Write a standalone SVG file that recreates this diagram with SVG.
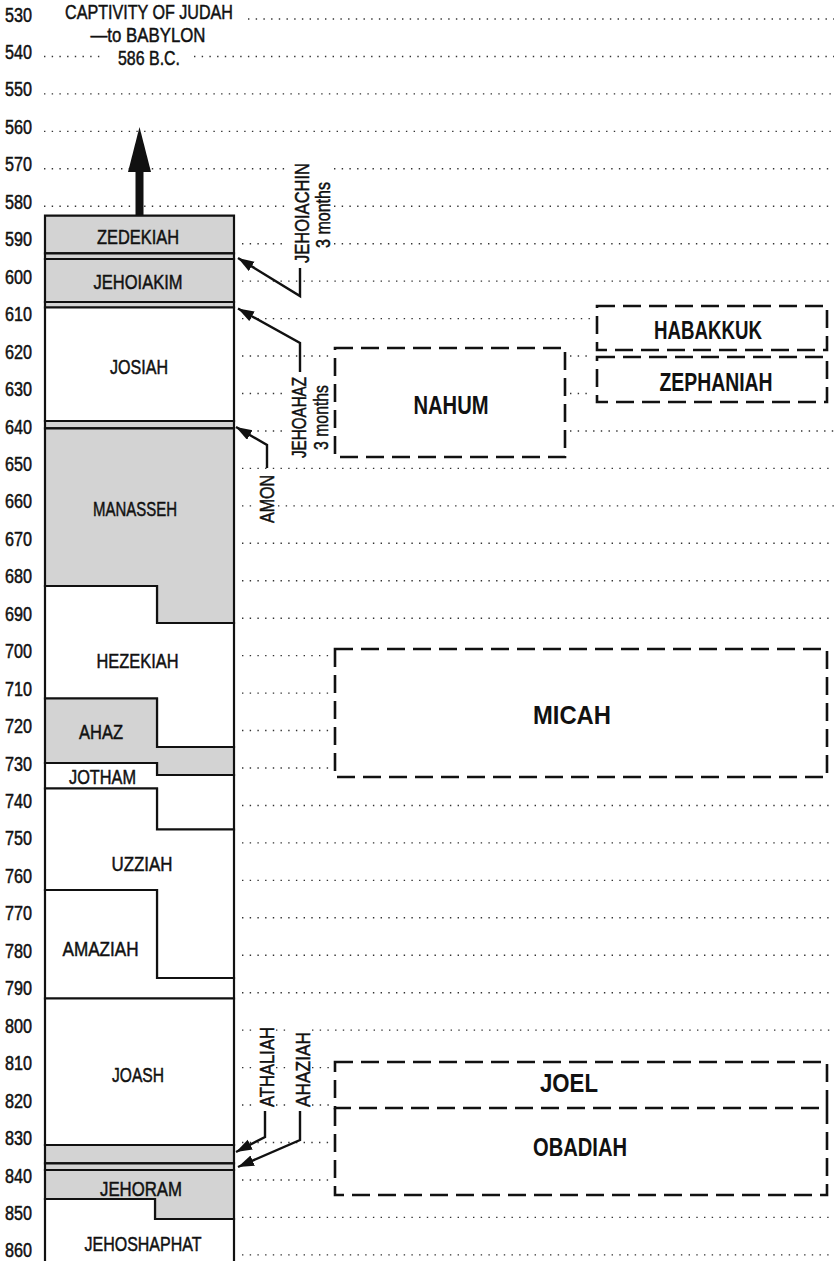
<svg xmlns="http://www.w3.org/2000/svg" width="834" height="1261" viewBox="0 0 834 1261">
<defs>
<style>
.t{font-family:'Liberation Sans',Arial,sans-serif;font-size:21px;fill:#111;stroke:#111;stroke-width:0.5}
.y{font-size:20px}
.m{text-anchor:middle}
.p{font-family:'Liberation Sans',Arial,sans-serif;font-size:26px;font-weight:bold;fill:#111;text-anchor:middle}
.dot{fill:none;stroke:#333;stroke-width:1.4;stroke-dasharray:1.4 6.3}
.r{stroke:#111;stroke-width:2.2;stroke-linejoin:miter}
.g{fill:#d3d3d3}
.w{fill:#fff}
.box{fill:none;stroke:#111;stroke-width:2.6;stroke-dasharray:18 8}
.lead{fill:none;stroke:#111;stroke-width:2.4}
</style>
<marker id="ah" markerUnits="userSpaceOnUse" markerWidth="18" markerHeight="12" refX="16" refY="5.5" orient="auto">
<path d="M0,0 L16,5.5 L0,11 z" fill="#111"/>
</marker>
</defs>
<rect width="834" height="1261" fill="#fff"/>

<g id="gridlines">
<path class="dot" d="M248 19H834 M44 56.45H102 M194 56.45H834 M44 93.9H834 M44 131.35H834 M44 168.8H286 M334 168.8H834 M44 206.25H286 M334 206.25H834 M242 243.7H286 M334 243.7H834 M242 281.15H834 M242 318.6H592 M242 356.05H330 M570 356.05H592 M242 393.5H286 M570 393.5H592 M242 430.95H286 M570 430.95H834 M242 468.4H834 M242 505.85H252 M278 505.85H834 M242 543.3H834 M242 580.75H834 M242 618.2H834 M242 655.65H330 M242 693.1H330 M242 730.55H330 M242 768H330 M242 805.45H834 M242 842.9H834 M242 880.35H834 M242 917.8H834 M242 955.25H834 M242 992.7H834 M242 1030.15H255 M276 1030.15H290 M312 1030.15H834 M242 1067.6H255 M276 1067.6H290 M312 1067.6H330 M242 1105.05H255 M276 1105.05H290 M312 1105.05H330 M242 1142.5H330 M242 1179.95H330 M242 1217.4H834 M242 1254.85H834"/>
</g>

<g id="years" class="t y">
<text x="5" y="21.5" textLength="27" lengthAdjust="spacingAndGlyphs">530</text>
<text x="5" y="59" textLength="27" lengthAdjust="spacingAndGlyphs">540</text>
<text x="5" y="96.4" textLength="27" lengthAdjust="spacingAndGlyphs">550</text>
<text x="5" y="133.9" textLength="27" lengthAdjust="spacingAndGlyphs">560</text>
<text x="5" y="171.3" textLength="27" lengthAdjust="spacingAndGlyphs">570</text>
<text x="5" y="208.8" textLength="27" lengthAdjust="spacingAndGlyphs">580</text>
<text x="5" y="246.2" textLength="27" lengthAdjust="spacingAndGlyphs">590</text>
<text x="5" y="283.7" textLength="27" lengthAdjust="spacingAndGlyphs">600</text>
<text x="5" y="321.1" textLength="27" lengthAdjust="spacingAndGlyphs">610</text>
<text x="5" y="358.6" textLength="27" lengthAdjust="spacingAndGlyphs">620</text>
<text x="5" y="396" textLength="27" lengthAdjust="spacingAndGlyphs">630</text>
<text x="5" y="433.5" textLength="27" lengthAdjust="spacingAndGlyphs">640</text>
<text x="5" y="470.9" textLength="27" lengthAdjust="spacingAndGlyphs">650</text>
<text x="5" y="508.4" textLength="27" lengthAdjust="spacingAndGlyphs">660</text>
<text x="5" y="545.8" textLength="27" lengthAdjust="spacingAndGlyphs">670</text>
<text x="5" y="583.3" textLength="27" lengthAdjust="spacingAndGlyphs">680</text>
<text x="5" y="620.7" textLength="27" lengthAdjust="spacingAndGlyphs">690</text>
<text x="5" y="658.2" textLength="27" lengthAdjust="spacingAndGlyphs">700</text>
<text x="5" y="695.6" textLength="27" lengthAdjust="spacingAndGlyphs">710</text>
<text x="5" y="733.1" textLength="27" lengthAdjust="spacingAndGlyphs">720</text>
<text x="5" y="770.5" textLength="27" lengthAdjust="spacingAndGlyphs">730</text>
<text x="5" y="808" textLength="27" lengthAdjust="spacingAndGlyphs">740</text>
<text x="5" y="845.4" textLength="27" lengthAdjust="spacingAndGlyphs">750</text>
<text x="5" y="882.9" textLength="27" lengthAdjust="spacingAndGlyphs">760</text>
<text x="5" y="920.3" textLength="27" lengthAdjust="spacingAndGlyphs">770</text>
<text x="5" y="957.8" textLength="27" lengthAdjust="spacingAndGlyphs">780</text>
<text x="5" y="995.2" textLength="27" lengthAdjust="spacingAndGlyphs">790</text>
<text x="5" y="1032.7" textLength="27" lengthAdjust="spacingAndGlyphs">800</text>
<text x="5" y="1070.1" textLength="27" lengthAdjust="spacingAndGlyphs">810</text>
<text x="5" y="1107.6" textLength="27" lengthAdjust="spacingAndGlyphs">820</text>
<text x="5" y="1145" textLength="27" lengthAdjust="spacingAndGlyphs">830</text>
<text x="5" y="1182.5" textLength="27" lengthAdjust="spacingAndGlyphs">840</text>
<text x="5" y="1219.9" textLength="27" lengthAdjust="spacingAndGlyphs">850</text>
<text x="5" y="1257.4" textLength="27" lengthAdjust="spacingAndGlyphs">860</text>
</g>

<g id="captivity">
<text class="t m" x="149" y="18.5" textLength="168" lengthAdjust="spacingAndGlyphs">CAPTIVITY OF JUDAH</text>
<text class="t m" x="148" y="42" textLength="115" lengthAdjust="spacingAndGlyphs">—to BABYLON</text>
<text class="t m" x="149" y="65" textLength="62" lengthAdjust="spacingAndGlyphs">586 B.C.</text>
<rect x="135.5" y="170" width="8" height="46" fill="#111"/>
<polygon points="139.5,127 151,172 128,172" fill="#111"/>
</g>

<g id="zedekiah"><polygon class="r g" points="45,215.7 234,215.7 234,253.3 45,253.3"/><text class="t m" x="138" y="243.5" textLength="82" lengthAdjust="spacingAndGlyphs">ZEDEKIAH</text></g>
<g id="jehoiachin"><polygon class="r g" points="45,253.3 234,253.3 234,259 45,259"/></g>
<g id="jehoiakim"><polygon class="r g" points="45,259 234,259 234,302 45,302"/><text class="t m" x="138" y="288.5" textLength="89" lengthAdjust="spacingAndGlyphs">JEHOIAKIM</text></g>
<g id="jehoahaz"><polygon class="r g" points="45,302 234,302 234,307.5 45,307.5"/></g>
<g id="josiah"><polygon class="r w" points="45,307.5 234,307.5 234,421 45,421"/><text class="t m" x="139" y="373.5" textLength="58" lengthAdjust="spacingAndGlyphs">JOSIAH</text></g>
<g id="amon"><polygon class="r g" points="45,421 234,421 234,428.3 45,428.3"/></g>
<g id="manasseh"><polygon class="r g" points="45,428.3 234,428.3 234,623 157,623 157,586 45,586"/><text class="t m" x="135" y="515.5" textLength="84" lengthAdjust="spacingAndGlyphs">MANASSEH</text></g>
<g id="hezekiah"><polygon class="r w" points="45,586 157,586 157,623 234,623 234,747 157,747 157,698.5 45,698.5"/><text class="t m" x="137.5" y="668" textLength="82" lengthAdjust="spacingAndGlyphs">HEZEKIAH</text></g>
<g id="ahaz"><polygon class="r g" points="45,698.5 157,698.5 157,747 234,747 234,775 157,775 157,763 45,763"/><text class="t m" x="101" y="738.5" textLength="44" lengthAdjust="spacingAndGlyphs">AHAZ</text></g>
<g id="jotham"><polygon class="r w" points="45,763 157,763 157,775 234,775 234,829.5 157,829.5 157,788.5 45,788.5"/><text class="t m" x="102.5" y="783.5" textLength="67" lengthAdjust="spacingAndGlyphs">JOTHAM</text></g>
<g id="uzziah"><polygon class="r w" points="45,788.5 157,788.5 157,829.5 234,829.5 234,978 157,978 157,890 45,890"/><text class="t m" x="142" y="870.5" textLength="61" lengthAdjust="spacingAndGlyphs">UZZIAH</text></g>
<g id="amaziah"><polygon class="r w" points="45,890 157,890 157,978 234,978 234,998.5 45,998.5"/><text class="t m" x="100.5" y="956" textLength="76" lengthAdjust="spacingAndGlyphs">AMAZIAH</text></g>
<g id="joash"><polygon class="r w" points="45,998.5 234,998.5 234,1145 45,1145"/><text class="t m" x="138" y="1082" textLength="52" lengthAdjust="spacingAndGlyphs">JOASH</text></g>
<g id="athaliah"><polygon class="r g" points="45,1145 234,1145 234,1163.3 45,1163.3"/></g>
<g id="ahaziah"><polygon class="r g" points="45,1163.3 234,1163.3 234,1170 45,1170"/></g>
<g id="jehoram"><polygon class="r g" points="45,1170 234,1170 234,1219 155,1219 155,1199 45,1199"/><text class="t m" x="141" y="1195.5" textLength="82" lengthAdjust="spacingAndGlyphs">JEHORAM</text></g>
<g id="jehoshaphat"><polygon class="r w" points="45,1199 155,1199 155,1219 234,1219 234,1266 45,1266"/><text class="t m" x="143" y="1251" textLength="117" lengthAdjust="spacingAndGlyphs">JEHOSHAPHAT</text></g>

<g id="side-labels" class="t m">
<text transform="translate(308.5,213) rotate(-90)" textLength="100" lengthAdjust="spacingAndGlyphs">JEHOIACHIN</text>
<text transform="translate(329.5,215) rotate(-90)" textLength="66" lengthAdjust="spacingAndGlyphs">3 months</text>
<text transform="translate(305.5,417.5) rotate(-90)" textLength="81" lengthAdjust="spacingAndGlyphs">JEHOAHAZ</text>
<text transform="translate(327.5,417.5) rotate(-90)" textLength="65" lengthAdjust="spacingAndGlyphs">3 months</text>
<text transform="translate(273.5,499) rotate(-90)" textLength="48" lengthAdjust="spacingAndGlyphs">AMON</text>
<text transform="translate(273.5,1067) rotate(-90)" textLength="80" lengthAdjust="spacingAndGlyphs">ATHALIAH</text>
<text transform="translate(309.5,1069.5) rotate(-90)" textLength="75" lengthAdjust="spacingAndGlyphs">AHAZIAH</text>
</g>

<g id="habakkuk"><rect class="box" x="597" y="306" width="230" height="44"/><text class="p" x="708" y="338.5" textLength="108" lengthAdjust="spacingAndGlyphs">HABAKKUK</text></g>
<g id="zephaniah"><rect class="box" x="597" y="357" width="230" height="45"/><text class="p" x="716" y="390.5" textLength="113" lengthAdjust="spacingAndGlyphs">ZEPHANIAH</text></g>
<g id="nahum"><rect class="box" x="335" y="348" width="230" height="109"/><text class="p" x="451" y="413.5" textLength="75" lengthAdjust="spacingAndGlyphs">NAHUM</text></g>
<g id="micah"><rect class="box" x="335" y="649" width="492" height="128"/><text class="p" x="572" y="723.5" textLength="78" lengthAdjust="spacingAndGlyphs">MICAH</text></g>
<g id="joel"><rect class="box" x="335" y="1062" width="492" height="46"/><text class="p" x="569" y="1092" textLength="58" lengthAdjust="spacingAndGlyphs">JOEL</text></g>
<g id="obadiah"><path class="box" d="M335,1108 V1195 H827 V1108"/><text class="p" x="580" y="1155.5" textLength="94" lengthAdjust="spacingAndGlyphs">OBADIAH</text></g>

<g id="connectors">
<polyline class="lead" points="300,268 300,296 238,258" marker-end="url(#ah)"/>
<polyline class="lead" points="300,372 300,343 238,308.5" marker-end="url(#ah)"/>
<polyline class="lead" points="267,468 267,445 236,427" marker-end="url(#ah)"/>
<polyline class="lead" points="265,1111 265,1137 236,1152" marker-end="url(#ah)"/>
<polyline class="lead" points="300,1111 300,1140 238,1167" marker-end="url(#ah)"/>
</g>
</svg>
